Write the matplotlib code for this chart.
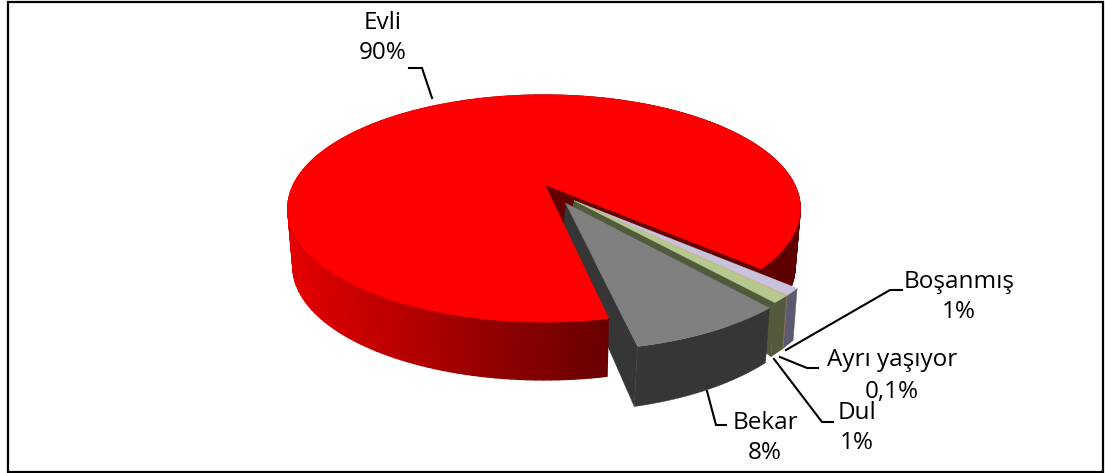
import matplotlib
matplotlib.use('Agg')
import matplotlib.pyplot as plt
from matplotlib.collections import PolyCollection
from matplotlib.colors import LinearSegmentedColormap
from matplotlib.patches import Polygon, Rectangle
import numpy as np

# Medeni durum dagilimi (%)
categories = ['Evli', 'Bekar', 'Dul', 'Ayrı yaşıyor', 'Boşanmış']
values = [90, 8, 1, 0.1, 1]
value_labels = ['90%', '8%', '1%', '0,1%', '1%']

top_colors = ['#ff0000', '#808080', '#b5c98e', '#e6b496', '#c8c3dc']
wall_colors = ['#620000', '#363636', '#525a3c', '#8c6e5a', '#5c5a6e']
explode = [0, 0.19, 0.19, 0.19, 0.19]
explode_dir = [0, 26, 38, 38, 38]
slice_radius = [1.0, 0.985, 0.97, 0.97, 0.97]

# perspektif ayarlari: daire -> ekran donusumu
PERSP = 0.216
CX, CY, RX, RY = 544, 184, 250, 108
START = 48


def project(u, v, x0=CX, y0=CY, rx=RX, ry=RY):
    w = 1 - PERSP * v
    return x0 + rx * u / w, y0 + ry * v / w


def arc(a0, a1, r=1.0, dx=0.0, dy=0.0, n=200):
    phi = np.radians(np.linspace(a0, a1, n))
    return r * np.sin(phi) + dx, r * np.cos(phi) + dy


def top_xy(u, v):
    return np.column_stack(project(u, v))


def evli_bottom(u, v):
    return np.column_stack(project(u, v, x0=544, y0=CY + 58, rx=245))


def slice_bottom(u, v):
    return np.column_stack(project(u, v, x0=541, y0=CY + 37.6, rx=249, ry=RY + 14.9))


fig = plt.figure(figsize=(11.05, 4.73), dpi=100)
ax = fig.add_axes([0, 0, 1, 1])
ax.set_xlim(0, 1105)
ax.set_ylim(473, 0)
ax.axis('off')

# dilim acilari degerlerden
sweeps = np.array(values) / sum(values) * 360
ends = START + np.cumsum(sweeps)
starts = ends - sweeps

# Evli: kesik yuzey, yan yuzey (gradyan), ust yuzey
a0, a1 = starts[0], ends[0]
u, v = arc(a0, a1, n=600)
ue = np.array([np.sin(np.radians(a0)), 0.0])
ve = np.array([np.cos(np.radians(a0)), 0.0])
cut = np.vstack([top_xy(ue, ve), evli_bottom(ue, ve)[::-1]])
ax.add_patch(Polygon(cut, closed=True, fc=wall_colors[0], ec='none', zorder=1))

grad_cmap = LinearSegmentedColormap.from_list(
    'evli_side', [(0, '#e40000'), (0.22, '#b80000'), (0.41, '#900000'),
                  (0.62, '#6a0000'), (1, '#5e0000')])
t_xy = top_xy(u, v)
us, vs = arc(a0, a1, n=220)
ts, bs = top_xy(us, vs), evli_bottom(us, vs)
quads = [np.vstack([ts[i], ts[i + 1], bs[i + 1], bs[i]]) for i in range(len(us) - 1)]
mid_x = (ts[:-1, 0] + ts[1:, 0]) / 2
side_colors = grad_cmap((mid_x - 288) / (800 - 288))
ax.add_collection(PolyCollection(quads, facecolors=side_colors, edgecolors=side_colors,
                                 linewidths=1.2, zorder=2))

apex = top_xy(np.array([0.0]), np.array([0.0]))[0]
ax.add_patch(Polygon(np.vstack([apex[None], t_xy]), closed=True,
                     fc=top_colors[0], ec=top_colors[0], lw=1.0, zorder=3))

# Bekar, Dul, Ayri yasiyor, Bosanmis: disari cekilmis dilimler (arkadan one)
for i in [4, 3, 2, 1]:
    d = np.radians(explode_dir[i])
    dx, dy = explode[i] * np.sin(d), explode[i] * np.cos(d)
    u, v = arc(starts[i], ends[i], r=slice_radius[i], dx=dx, dy=dy, n=60)
    tip = np.array([dx]), np.array([dy])
    z = 4 + (4 - i)

    # sol kesik yuzey: Bekar Evli'nin altinda, ince dilimlerde merkeze dogru daralir
    ux = np.array([dx, u[0]])
    vx = np.array([dy, v[0]])
    wall_top = top_xy(ux, vx)
    wall_bot = slice_bottom(ux, vx)
    if i == 1:
        wall_z = 1.5
    else:
        wall_z = z
        wall_bot[0] = wall_top[0] + 0.3 * (wall_bot[0] - wall_top[0])
    ax.add_patch(Polygon(np.vstack([wall_top, wall_bot[::-1]]), closed=True,
                         fc=wall_colors[i], ec=wall_colors[i], lw=0.3, zorder=wall_z))

    # dis yuzey
    ax.add_patch(Polygon(np.vstack([top_xy(u, v), slice_bottom(u, v)[::-1]]), closed=True,
                         fc=wall_colors[i], ec=wall_colors[i], lw=0.3, zorder=z))
    # ust yuzey
    ax.add_patch(Polygon(np.vstack([top_xy(*tip), top_xy(u, v)]), closed=True,
                         fc=top_colors[i], ec=top_colors[i], lw=0.3, zorder=z))

# etiket konumlari ve kilavuz cizgileri
label_pos = [(383, 23, 53), (765, 423, 453), (857, 413, 443), (892, 360, 392), (959, 282, 312)]
leaders = [
    [(409, 68), (422, 68), (432, 98)],
    [(726, 425), (716, 425), (707, 391)],
    [(833, 422), (822, 422), (774, 359)],
    [(818, 368), (807, 368), (780, 357)],
    [(902, 290), (890, 290), (786, 350)],
]
for name, val, (x, y1, y2), line in zip(categories, value_labels, label_pos, leaders):
    ax.text(x, y1, name, ha='center', va='center', fontsize=17.5, family='Open Sans',
            color='black', zorder=20)
    ax.text(x, y2, val, ha='center', va='center', fontsize=17.5, family='Open Sans',
            color='black', zorder=20)
    xs, ys = zip(*line)
    ax.plot(xs, ys, color='black', lw=1.5, zorder=15, solid_joinstyle='miter')

# cerceve
ax.add_patch(Rectangle((8, 2), 1095, 469.5, fc='none', ec='black', lw=1.6, zorder=25))

fig.savefig('out.png', dpi=100)
